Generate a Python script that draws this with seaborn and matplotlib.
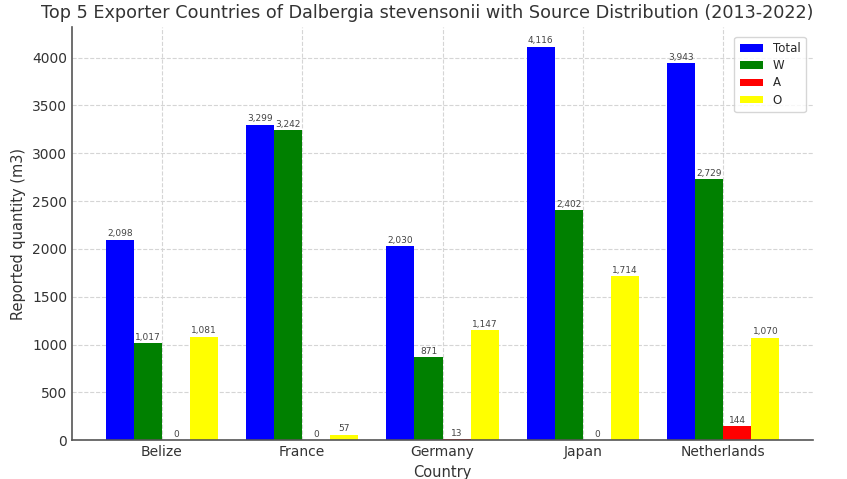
import matplotlib
matplotlib.use("Agg")
import matplotlib.pyplot as plt
import seaborn as sns
import pandas as pd

countries = ["Belize", "France", "Germany", "Japan", "Netherlands"]
series = ["Total", "W", "A", "O"]
total = [2098, 3299, 2030, 4116, 3943]
w_vals = [1017, 3242, 871, 2402, 2729]
a_vals = [0, 0, 13, 0, 144]
o_vals = [1081, 57, 1147, 1714, 1070]
colors = ["blue", "green", "red", "yellow"]

rows = []
for name, vals in zip(series, [total, w_vals, a_vals, o_vals]):
    for c, v in zip(countries, vals):
        rows.append({"Country": c, "Source": name, "Value": v})
df = pd.DataFrame(rows)

sns.set_style("whitegrid")
plt.rcParams['font.family'] = ['DejaVu Sans']
fig = plt.figure(figsize=(8.47, 4.79), dpi=100)
ax = fig.add_axes([0.085, 0.081, 0.875, 0.863])
sns.barplot(data=df, x="Country", y="Value", hue="Source", order=countries,
            hue_order=series, palette=colors, saturation=1, width=0.8,
            edgecolor="none", linewidth=0, ax=ax, errorbar=None)

for cont in ax.containers:
    ax.bar_label(cont, labels=[f"{int(v.get_height()):,}" for v in cont],
                 fontsize=6.5, color="#444444", padding=1)

ax.set_xlim(-0.64, 4.64)
ax.set_ylim(0, 4116 * 1.05)
fig.suptitle("Top 5 Exporter Countries of Dalbergia stevensonii with Source Distribution (2013-2022)",
             fontsize=12.7, color="#333333", x=427 / 847, y=0.954, va="bottom")
ax.set_xlabel("Country", fontsize=10.5, color="#333333")
ax.set_ylabel("Reported quantity (m3)", fontsize=10.5, color="#333333")
ax.tick_params(axis="both", labelsize=10, colors="#333333", length=0)
ax.grid(True, linestyle="--", color="#d5d5d5", linewidth=0.8)
ax.set_axisbelow(True)
for s in ["top", "right"]:
    ax.spines[s].set_visible(False)
for s in ["left", "bottom"]:
    ax.spines[s].set_color("#555555")
    ax.spines[s].set_linewidth(1.2)
leg = ax.legend(title=None, loc="upper right", fontsize=8.5, frameon=True,
                bbox_to_anchor=(0.998, 0.99), labelspacing=0.35,
                handlelength=2.0, handleheight=0.6, borderpad=0.45)
leg.get_frame().set_edgecolor("#cccccc")
fig.savefig("out.png", dpi=100)
